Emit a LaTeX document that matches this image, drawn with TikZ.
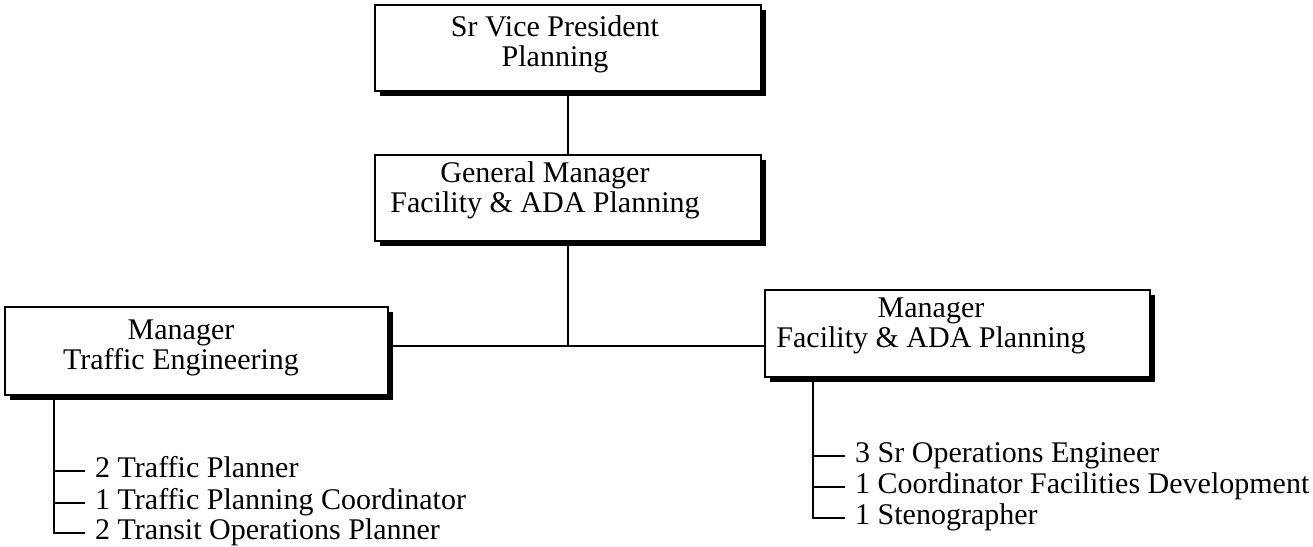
\documentclass[tikz,border=0pt]{standalone}
\usepackage{fontspec}
\setmainfont{Liberation Serif}
\usetikzlibrary{shadows}
\begin{document}
\begin{tikzpicture}[x=1pt,y=-1pt,
  box/.style={draw, line width=2.5pt, fill=white, rectangle, inner sep=0pt,
    drop shadow={shadow xshift=4.5pt, shadow yshift=-4.5pt, fill=black, opacity=1}},
  lbl/.style={font=\fontsize{30}{30}\selectfont, align=center, inner sep=0pt},
  item/.style={font=\fontsize{30}{30}\selectfont, anchor=base west, inner sep=0pt},
  conn/.style={line width=2.2pt}]
\useasboundingbox (0,0) rectangle (1313,546);
% boxes
\node[box, minimum width=386pt, minimum height=86pt] (svp) at (568,48) {};
\node[box, minimum width=386pt, minimum height=86pt] (gm) at (568,198) {};
\node[box, minimum width=383pt, minimum height=88pt] (lm) at (196.5,351) {};
\node[box, minimum width=385pt, minimum height=87pt] (rm) at (957.5,333.5) {};
% box texts
\node[lbl] (svpt) at (555,44) {Sr Vice President\\Planning};
\node[lbl] (gmt) at (545,190) {General Manager\\Facility \& ADA Planning};
\node[lbl] (lmt) at (181,348) {Manager\\Traffic Engineering};
\node[lbl] (rmt) at (931,326) {Manager\\Facility \& ADA Planning};
% connectors
\coordinate (j) at (568,346);
\draw[conn] (svp.south) -- (gm.north);
\draw[conn] (gm.south) -- (j);
\draw[conn] (lm.east |- j) -- (rm.west |- j);
% left list
\node[item] (l1) at (95,477) {2 Traffic Planner};
\node[item] (l2) at (95,509) {1 Traffic Planning Coordinator};
\node[item] (l3) at (95,539) {2 Transit Operations Planner};
\coordinate (la) at (54,395);
\coordinate (l1t) at ([shift={(-10pt,6pt)}]l1.base west);
\coordinate (l2t) at ([shift={(-10pt,6pt)}]l2.base west);
\coordinate (l3t) at ([shift={(-10pt,6pt)}]l3.base west);
\draw[conn] (la) |- (l3t);
\draw[conn] (la |- l1t) -- (l1t);
\draw[conn] (la |- l2t) -- (l2t);
% right list
\node[item] (r1) at (855,462) {3 Sr Operations Engineer};
\node[item] (r2) at (855,493) {1 Coordinator Facilities Development};
\node[item] (r3) at (855,524) {1 Stenographer};
\coordinate (ra) at (813,377);
\coordinate (r1t) at ([shift={(-10pt,6pt)}]r1.base west);
\coordinate (r2t) at ([shift={(-10pt,6pt)}]r2.base west);
\coordinate (r3t) at ([shift={(-10pt,6pt)}]r3.base west);
\draw[conn] (ra) |- (r3t);
\draw[conn] (ra |- r1t) -- (r1t);
\draw[conn] (ra |- r2t) -- (r2t);
\end{tikzpicture}
\end{document}
